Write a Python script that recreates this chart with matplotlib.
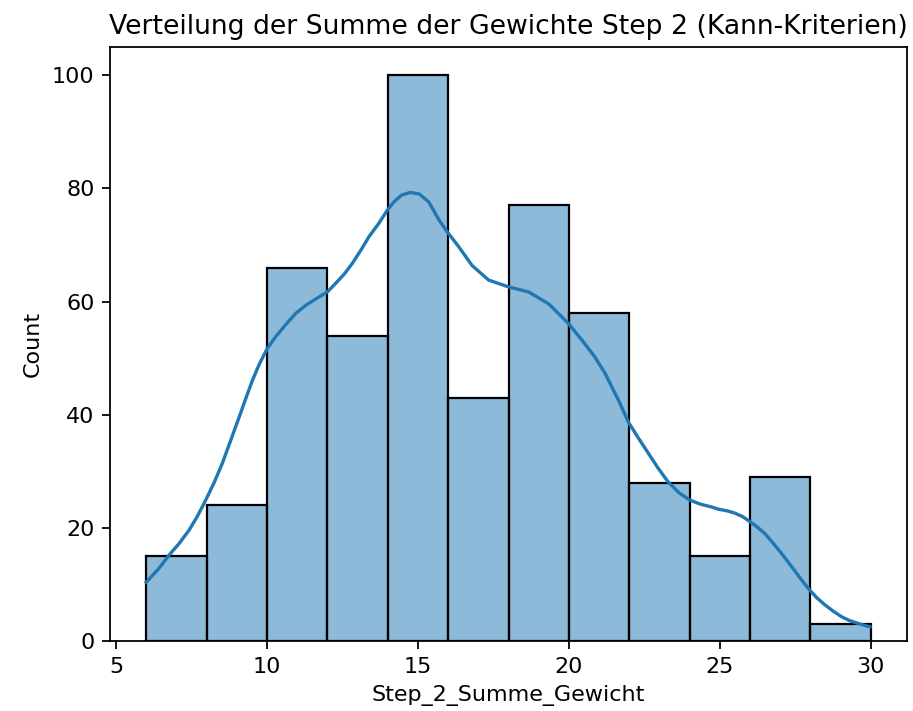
import matplotlib
matplotlib.use("Agg")
import matplotlib.pyplot as plt
import numpy as np

# Histogram data
bin_edges = [6, 8, 10, 12, 14, 16, 18, 20, 22, 24, 26, 28, 30]
counts = [15, 24, 66, 54, 100, 43, 77, 58, 28, 15, 29, 3]

# KDE curve (in count units)
kde_x = [6.0, 6.4, 6.76, 7.1, 7.42, 7.7, 7.97, 8.25, 8.52, 8.8, 9.08, 9.3, 9.52, 9.75, 10.01,
         10.29, 10.6, 10.95, 11.3, 11.72, 12.0, 12.27, 12.55, 12.82, 13.1, 13.37, 13.7,
         13.98, 14.2, 14.45, 14.75, 15.05, 15.36, 15.69, 15.96, 16.35, 16.79, 17.34, 18.0,
         18.67, 19.33, 19.99, 20.43, 20.85, 21.2, 21.64, 21.97, 22.3, 22.63, 22.95, 23.29,
         23.65, 24.01, 24.35, 24.72, 24.95, 25.25, 25.5, 25.75, 26.0, 26.25, 26.49, 26.75,
         27.04, 27.3, 27.54, 27.75, 27.98, 28.2, 28.48, 28.75, 29.03, 29.3, 29.58, 29.97]
kde_y = [10.4, 12.7, 15.2, 17.3, 19.6, 22.1, 24.9, 28.0, 31.4, 35.5, 39.6, 42.9, 46.1, 49.0, 51.7,
         53.8, 55.8, 57.9, 59.4, 60.8, 61.7, 63.2, 64.8, 66.7, 69.0, 71.4, 73.8,
         76.1, 77.6, 78.8, 79.3, 79.0, 77.6, 74.5, 72.4, 69.7, 66.4, 63.8, 62.6,
         61.7, 59.6, 56.1, 53.2, 50.3, 47.3, 42.6, 38.7, 35.9, 33.2, 30.6, 28.1,
         26.2, 24.9, 24.2, 23.7, 23.3, 23.0, 22.6, 22.0, 21.1, 20.1, 19.0, 17.4,
         15.5, 13.7, 12.0, 10.5, 9.0, 7.7, 6.4, 5.3, 4.3, 3.6, 3.1, 2.5]

blue = "#1f77b4"
DPI = 160

fig = plt.figure(figsize=(913 / DPI, 711 / DPI), dpi=DPI)
ax = fig.add_axes([110 / 913, 70 / 711, 797 / 913, 594 / 711])

widths = np.diff(bin_edges)
ax.bar(bin_edges[:-1], counts, width=widths, align="edge",
       facecolor=matplotlib.colors.to_rgba(blue, 0.5), edgecolor="black", linewidth=1.0)
ax.plot(kde_x, kde_y, color=blue, linewidth=1.5, solid_joinstyle="round")

ax.set_xlim(4.8, 31.2)
ax.set_ylim(0, 105)
ax.set_xticks([5, 10, 15, 20, 25, 30])
ax.set_yticks([0, 20, 40, 60, 80, 100])
ax.set_xlabel("Step_2_Summe_Gewicht")
ax.set_ylabel("Count")
ax.set_title("Verteilung der Summe der Gewichte Step 2 (Kann-Kriterien)")

fig.savefig("out.png", dpi=DPI)
